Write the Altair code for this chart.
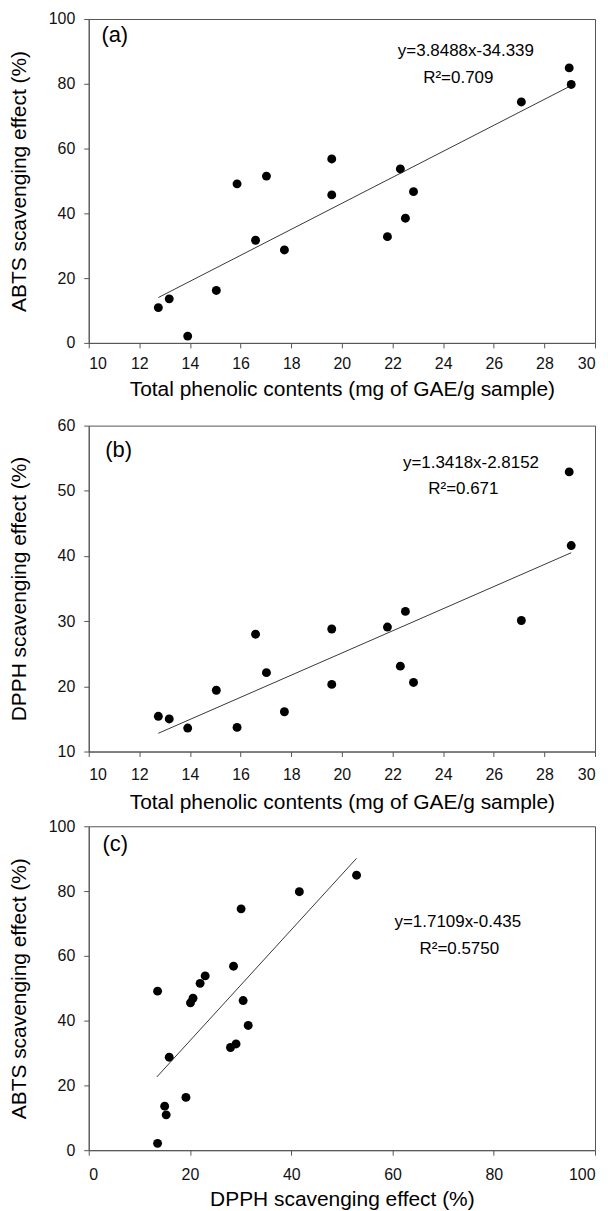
import altair as alt
import pandas as pd

# ---- data ----
tpc = [28.98, 29.06, 27.09, 19.60, 22.31, 17.02, 15.86, 19.60, 22.83,
       16.59, 17.73, 21.80, 22.51, 15.04, 13.18, 12.75, 13.91]
abts = [84.9, 79.8, 74.4, 56.8, 53.7, 51.5, 49.1, 45.7, 46.7,
        31.7, 28.7, 32.8, 38.5, 16.2, 13.6, 10.9, 2.1]
dpph = [52.9, 41.6, 30.1, 28.8, 23.1, 22.1, 13.7, 20.3, 20.6,
        28.0, 16.1, 29.1, 31.5, 19.4, 15.0, 15.4, 13.6]

dpph_c = [52.9, 41.6, 30.1, 28.6, 23.0, 22.0, 13.6, 20.1, 20.6,
          30.5, 31.5, 29.1, 28.0, 15.9, 19.2, 15.0, 15.3, 13.6]
abts_c = [84.9, 79.8, 74.5, 56.8, 53.8, 51.5, 49.1, 45.5, 46.9,
          46.2, 38.5, 32.8, 31.7, 28.7, 16.3, 13.6, 10.9, 2.1]

fit_a_x = [12.75, 29.0]
fit_a_y = [14.0, 79.2]
fit_b_x = [12.75, 29.06]
fit_b_y = [12.8, 40.5]
fit_c_x = [13.45, 52.9]
fit_c_y = [22.6, 90.1]

labels_a = ["(a)", "y=3.8488x-34.339", "R²=0.709"]
labels_b = ["(b)", "y=1.3418x-2.8152", "R²=0.671"]
labels_c = ["(c)", "y=1.7109x-0.435", "R²=0.5750"]
lab_a_x = [10.5, 24.9, 24.6]
lab_a_y = [95.0, 90.2, 81.8]
lab_b_x = [10.65, 25.1, 24.8]
lab_b_y = [56.3, 54.3, 50.2]
lab_c_x = [2.7, 72.9, 73.2]
lab_c_y = [94.6, 70.3, 62.0]

FONT = "Liberation Sans"
AX = "#555555"


def panel(px, py, fx, fy, lx, ly, labs, xdom, ydom, xticks, yticks,
          xtitle, ytitle, w, h, lpad, tpad):
    pts = pd.DataFrame({"x": px, "y": py})
    fit = pd.DataFrame({"x": fx, "y": fy})
    tag = pd.DataFrame({"x": lx[:1], "y": ly[:1], "t": labs[:1]})
    eq = pd.DataFrame({"x": lx[1:], "y": ly[1:], "t": labs[1:]})
    xs = alt.Scale(domain=xdom, nice=False, zero=False)
    ys = alt.Scale(domain=ydom, nice=False, zero=False)
    xax = alt.Axis(values=xticks, title=xtitle, labelPadding=lpad,
                   titlePadding=tpad, format="d")
    yax = alt.Axis(values=yticks, title=ytitle, format="d", labelPadding=9,
                   titleX=-69, titleBaseline="middle")
    base_x = alt.X("x:Q", scale=xs, axis=xax)
    base_y = alt.Y("y:Q", scale=ys, axis=yax)
    p = alt.Chart(pts).mark_circle(size=80, color="black", opacity=1).encode(
        x=base_x, y=base_y)
    l = alt.Chart(fit).mark_line(color="#222222", strokeWidth=0.9).encode(
        x=alt.X("x:Q", scale=xs), y=alt.Y("y:Q", scale=ys))
    t1 = alt.Chart(tag).mark_text(align="left", baseline="middle", fontSize=22,
                                  font=FONT, color="black").encode(
        x=alt.X("x:Q", scale=xs), y=alt.Y("y:Q", scale=ys), text="t:N")
    t2 = alt.Chart(eq).mark_text(align="center", baseline="middle", fontSize=17,
                                 font=FONT, color="black").encode(
        x=alt.X("x:Q", scale=xs), y=alt.Y("y:Q", scale=ys), text="t:N")
    return alt.layer(p, l, t1, t2).properties(width=w, height=h)


ca = panel(tpc, abts, fit_a_x, fit_a_y, lab_a_x, lab_a_y, labels_a,
           [10, 30], [0, 100], list(range(10, 31, 2)), list(range(0, 101, 20)),
           "Total phenolic contents (mg of GAE/g sample)",
           "ABTS scavenging effect (%)", 508, 325, 8, 7)
cb = panel(tpc, dpph, fit_b_x, fit_b_y, lab_b_x, lab_b_y, labels_b,
           [10, 30], [10, 60], list(range(10, 31, 2)), list(range(10, 61, 10)),
           "Total phenolic contents (mg of GAE/g sample)",
           "DPPH scavenging effect (%)", 508, 327, 10, 9)
cc = panel(dpph_c, abts_c, fit_c_x, fit_c_y, lab_c_x, lab_c_y, labels_c,
           [0, 100], [0, 100], list(range(0, 101, 20)), list(range(0, 101, 20)),
           "DPPH scavenging effect (%)",
           "ABTS scavenging effect (%)", 508, 325, 11, 7)

chart = alt.vconcat(alt.vconcat(ca, cb, spacing=16), cc, spacing=4).properties(
    padding={"left": 0, "top": 0, "right": 4, "bottom": 0}
).configure_view(
    stroke=AX, strokeWidth=1
).configure_axis(
    grid=False, domainColor=AX, tickColor=AX, tickSize=5,
    labelFont=FONT, labelFontSize=16, labelColor="#111111",
    titleFont=FONT, titleFontSize=21, titleFontWeight="normal",
    titleColor="black"
)

chart.save("out.html", embed_options={"renderer": "svg", "actions": False})
